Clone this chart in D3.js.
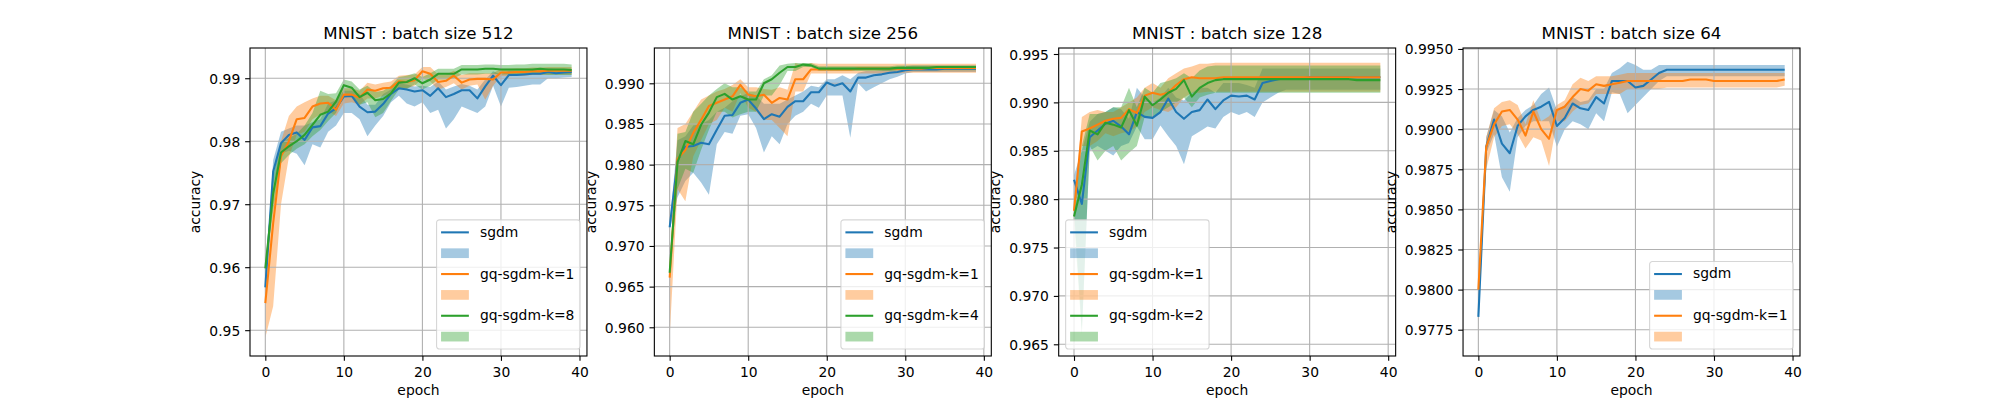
<!DOCTYPE html>
<html>
<head>
  <style>
    body { margin: 0; padding: 0; background: #fff; }
    svg { display: block; font-family: "DejaVu Sans", sans-serif; }
  </style>
</head>
<body>
  <div id="chart"></div>
  <script src="https://cdnjs.cloudflare.com/ajax/libs/d3/7.8.5/d3.min.js"></script>
  <script>
    // ---- data (accuracy per epoch, 40 epochs) ----
    const titles = ['MNIST : batch size 512', 'MNIST : batch size 256', 'MNIST : batch size 128', 'MNIST : batch size 64'];
    const labels512 = ['sgdm', 'gq-sgdm-k=1', 'gq-sgdm-k=8'];
    const labels256 = ['sgdm', 'gq-sgdm-k=1', 'gq-sgdm-k=4'];
    const labels128 = ['sgdm', 'gq-sgdm-k=1', 'gq-sgdm-k=2'];
    const labels64 = ['sgdm', 'gq-sgdm-k=1'];
    const xTicks = [0, 10, 20, 30, 40];
    const yTicks512 = [0.95, 0.96, 0.97, 0.98, 0.99];
    const yTicks256 = [0.960, 0.965, 0.970, 0.975, 0.980, 0.985, 0.990];
    const yTicks128 = [0.965, 0.970, 0.975, 0.980, 0.985, 0.990, 0.995];
    const yTicks64 = [0.9775, 0.9800, 0.9825, 0.9850, 0.9875, 0.9900, 0.9925, 0.9950];
    const yLim512 = [0.9459, 0.9948];
    const yLim256 = [0.95647, 0.99434];
    const yLim128 = [0.96379, 0.99562];
    const yLim64 = [0.97586, 0.99506];

    // batch 512
    const bs512_sgdm = [0.9568,0.9752,0.9797,0.9810,0.9814,0.9802,0.9822,0.9824,0.9844,0.9852,
      0.9871,0.9872,0.9855,0.9846,0.9847,0.9859,0.9875,0.9884,0.9882,0.9879,
      0.9881,0.9872,0.9884,0.9870,0.9875,0.9881,0.9881,0.9868,0.9887,0.9904,
      0.9889,0.9905,0.9905,0.9906,0.9907,0.9907,0.9910,0.9908,0.9909,0.9910];
    const bs512_sgdm_lo = [0.9560,0.9730,0.9780,0.9785,0.9780,0.9762,0.9795,0.9790,0.9815,0.9825,
      0.9845,0.9845,0.9835,0.9808,0.9825,0.9840,0.9862,0.9872,0.9860,0.9855,
      0.9862,0.9845,0.9850,0.9820,0.9835,0.9855,0.9850,0.9845,0.9855,0.9888,
      0.9855,0.9885,0.9886,0.9888,0.9890,0.9890,0.9900,0.9900,0.9901,0.9902];
    const bs512_sgdm_hi = [0.9578,0.9770,0.9815,0.9820,0.9825,0.9825,0.9830,0.9835,0.9860,0.9865,
      0.9880,0.9880,0.9875,0.9858,0.9858,0.9875,0.9882,0.9892,0.9890,0.9887,
      0.9888,0.9886,0.9895,0.9882,0.9887,0.9891,0.9888,0.9882,0.9898,0.9911,
      0.9906,0.9912,0.9912,0.9912,0.9913,0.9913,0.9916,0.9915,0.9915,0.9915];
    const bs512_k1 = [0.9543,0.9670,0.9776,0.9800,0.9835,0.9837,0.9855,0.9860,0.9861,0.9850,
      0.9874,0.9874,0.9869,0.9882,0.9880,0.9884,0.9885,0.9895,0.9894,0.9897,
      0.9911,0.9907,0.9894,0.9896,0.9904,0.9893,0.9898,0.9899,0.9899,0.9898,
      0.9909,0.9909,0.9910,0.9910,0.9911,0.9911,0.9912,0.9912,0.9912,0.9912];
    const bs512_k1_lo = [0.9488,0.9538,0.9700,0.9775,0.9810,0.9815,0.9835,0.9843,0.9848,0.9840,
      0.9860,0.9862,0.9858,0.9868,0.9868,0.9872,0.9876,0.9885,0.9884,0.9888,
      0.9900,0.9895,0.9882,0.9886,0.9892,0.9882,0.9888,0.9890,0.9866,0.9888,
      0.9903,0.9903,0.9904,0.9904,0.9905,0.9905,0.9906,0.9906,0.9906,0.9906];
    const bs512_k1_hi = [0.9595,0.9725,0.9800,0.9840,0.9855,0.9862,0.9868,0.9872,0.9872,0.9865,
      0.9884,0.9884,0.9880,0.9893,0.9890,0.9893,0.9895,0.9904,0.9905,0.9906,
      0.9918,0.9918,0.9906,0.9906,0.9912,0.9905,0.9908,0.9908,0.9908,0.9908,
      0.9915,0.9915,0.9916,0.9916,0.9917,0.9917,0.9918,0.9918,0.9918,0.9918];
    const bs512_k8 = [0.9598,0.9717,0.9782,0.9792,0.9800,0.9810,0.9826,0.9842,0.9847,0.9863,
      0.9889,0.9885,0.9870,0.9877,0.9865,0.9867,0.9876,0.9893,0.9894,0.9900,
      0.9892,0.9898,0.9907,0.9907,0.9907,0.9914,0.9914,0.9914,0.9915,0.9915,
      0.9914,0.9914,0.9914,0.9914,0.9914,0.9915,0.9914,0.9914,0.9914,0.9913];
    const bs512_k8_lo = [0.9592,0.9690,0.9765,0.9778,0.9788,0.9795,0.9808,0.9818,0.9832,0.9845,
      0.9876,0.9872,0.9858,0.9862,0.9838,0.9845,0.9864,0.9882,0.9883,0.9890,
      0.9882,0.9888,0.9898,0.9898,0.9900,0.9906,0.9906,0.9906,0.9907,0.9907,
      0.9906,0.9906,0.9906,0.9906,0.9906,0.9906,0.9905,0.9905,0.9905,0.9905];
    const bs512_k8_hi = [0.9605,0.9745,0.9798,0.9805,0.9812,0.9825,0.9845,0.9880,0.9875,0.9876,
      0.9898,0.9895,0.9882,0.9888,0.9878,0.9880,0.9888,0.9902,0.9904,0.9908,
      0.9902,0.9908,0.9915,0.9915,0.9915,0.9921,0.9921,0.9921,0.9922,0.9922,
      0.9921,0.9921,0.9922,0.9922,0.9923,0.9923,0.9923,0.9923,0.9923,0.9922];

    // batch 256
    const bs256_sgdm = [0.9723,0.9805,0.9822,0.9823,0.9827,0.9825,0.9843,0.9860,0.9861,0.9876,
      0.9880,0.9869,0.9856,0.9862,0.9859,0.9871,0.9878,0.9878,0.9889,0.9889,
      0.9901,0.9897,0.9900,0.9890,0.9907,0.9907,0.9910,0.9911,0.9913,0.9914,
      0.9916,0.9917,0.9917,0.9917,0.9917,0.9918,0.9918,0.9918,0.9918,0.9918];
    const bs256_sgdm_lo = [0.9720,0.9760,0.9780,0.9790,0.9778,0.9763,0.9825,0.9840,0.9838,0.9860,
      0.9862,0.9845,0.9815,0.9835,0.9825,0.9850,0.9860,0.9865,0.9875,0.9870,
      0.9885,0.9885,0.9885,0.9833,0.9900,0.9890,0.9895,0.9900,0.9905,0.9908,
      0.9912,0.9914,0.9914,0.9914,0.9914,0.9914,0.9914,0.9914,0.9914,0.9914];
    const bs256_sgdm_hi = [0.9728,0.9830,0.9835,0.9848,0.9850,0.9855,0.9865,0.9870,0.9878,0.9884,
      0.9888,0.9885,0.9875,0.9875,0.9875,0.9880,0.9885,0.9890,0.9897,0.9895,
      0.9905,0.9905,0.9910,0.9905,0.9913,0.9915,0.9915,0.9916,0.9918,0.9920,
      0.9921,0.9922,0.9922,0.9922,0.9922,0.9922,0.9922,0.9922,0.9922,0.9922];
    const bs256_k1 = [0.9661,0.9807,0.9818,0.9839,0.9855,0.9872,0.9876,0.9880,0.9884,0.9898,
      0.9886,0.9884,0.9886,0.9876,0.9882,0.9880,0.9905,0.9905,0.9917,0.9917,
      0.9917,0.9917,0.9917,0.9917,0.9918,0.9918,0.9918,0.9918,0.9918,0.9918,
      0.9918,0.9918,0.9918,0.9919,0.9919,0.9919,0.9919,0.9919,0.9919,0.9919];
    const bs256_k1_lo = [0.9588,0.9770,0.9755,0.9810,0.9830,0.9850,0.9855,0.9870,0.9865,0.9888,
      0.9870,0.9865,0.9855,0.9855,0.9845,0.9835,0.9890,0.9890,0.9912,0.9912,
      0.9912,0.9912,0.9912,0.9912,0.9912,0.9912,0.9912,0.9912,0.9912,0.9912,
      0.9913,0.9913,0.9913,0.9913,0.9913,0.9913,0.9913,0.9913,0.9913,0.9913];
    const bs256_k1_hi = [0.9675,0.9845,0.9850,0.9865,0.9880,0.9885,0.9890,0.9893,0.9898,0.9905,
      0.9895,0.9895,0.9893,0.9892,0.9895,0.9892,0.9925,0.9922,0.9925,0.9924,
      0.9924,0.9924,0.9924,0.9924,0.9924,0.9924,0.9924,0.9924,0.9924,0.9924,
      0.9924,0.9924,0.9924,0.9924,0.9924,0.9924,0.9924,0.9924,0.9924,0.9924];
    const bs256_k4 = [0.9667,0.9803,0.9829,0.9825,0.9849,0.9864,0.9883,0.9887,0.9880,0.9884,
      0.9880,0.9880,0.9900,0.9905,0.9913,0.9920,0.9920,0.9923,0.9922,0.9918,
      0.9918,0.9918,0.9918,0.9918,0.9918,0.9918,0.9918,0.9918,0.9918,0.9919,
      0.9919,0.9919,0.9919,0.9919,0.9920,0.9920,0.9920,0.9920,0.9920,0.9920];
    const bs256_k4_lo = [0.9663,0.9770,0.9795,0.9790,0.9818,0.9843,0.9865,0.9865,0.9858,0.9862,
      0.9865,0.9865,0.9885,0.9885,0.9898,0.9915,0.9915,0.9920,0.9920,0.9915,
      0.9915,0.9915,0.9915,0.9915,0.9915,0.9915,0.9915,0.9915,0.9915,0.9916,
      0.9916,0.9916,0.9916,0.9916,0.9916,0.9916,0.9916,0.9916,0.9916,0.9916];
    const bs256_k4_hi = [0.9670,0.9838,0.9840,0.9865,0.9875,0.9885,0.9893,0.9900,0.9895,0.9895,
      0.9890,0.9890,0.9905,0.9910,0.9922,0.9924,0.9925,0.9925,0.9925,0.9921,
      0.9921,0.9921,0.9921,0.9921,0.9921,0.9921,0.9921,0.9921,0.9921,0.9922,
      0.9922,0.9922,0.9922,0.9922,0.9922,0.9922,0.9922,0.9922,0.9922,0.9922];

    // batch 128
    const bs128_sgdm = [0.9820,0.9795,0.9864,0.9871,0.9878,0.9881,0.9875,0.9867,0.9890,0.9885,
      0.9884,0.9890,0.9904,0.9890,0.9883,0.9890,0.9892,0.9903,0.9893,0.9902,
      0.9907,0.9906,0.9907,0.9903,0.9920,0.9922,0.9924,0.9925,0.9925,0.9925,
      0.9926,0.9926,0.9926,0.9926,0.9926,0.9926,0.9926,0.9926,0.9926,0.9926];
    const bs128_sgdm_lo = [0.9790,0.9665,0.9850,0.9855,0.9850,0.9845,0.9855,0.9858,0.9875,0.9862,
      0.9862,0.9876,0.9865,0.9855,0.9836,0.9865,0.9870,0.9875,0.9873,0.9885,
      0.9890,0.9887,0.9890,0.9885,0.9900,0.9905,0.9910,0.9913,0.9913,0.9913,
      0.9913,0.9913,0.9913,0.9913,0.9913,0.9913,0.9913,0.9913,0.9913,0.9913];
    const bs128_sgdm_hi = [0.9825,0.9850,0.9880,0.9888,0.9890,0.9895,0.9893,0.9883,0.9915,0.9905,
      0.9900,0.9905,0.9915,0.9905,0.9902,0.9910,0.9915,0.9915,0.9910,0.9920,
      0.9920,0.9920,0.9918,0.9915,0.9935,0.9935,0.9935,0.9935,0.9935,0.9935,
      0.9935,0.9935,0.9935,0.9935,0.9935,0.9935,0.9935,0.9935,0.9935,0.9935];
    const bs128_k1 = [0.9788,0.9870,0.9873,0.9877,0.9881,0.9883,0.9884,0.9893,0.9889,0.9907,
      0.9910,0.9908,0.9910,0.9918,0.9924,0.9926,0.9925,0.9925,0.9925,0.9926,
      0.9926,0.9926,0.9926,0.9926,0.9926,0.9926,0.9926,0.9926,0.9926,0.9926,
      0.9926,0.9926,0.9926,0.9926,0.9926,0.9926,0.9926,0.9926,0.9926,0.9926];
    const bs128_k1_lo = [0.9780,0.9855,0.9855,0.9860,0.9868,0.9865,0.9868,0.9870,0.9875,0.9890,
      0.9895,0.9892,0.9890,0.9895,0.9905,0.9910,0.9910,0.9911,0.9911,0.9911,
      0.9911,0.9911,0.9911,0.9911,0.9911,0.9911,0.9911,0.9911,0.9911,0.9911,
      0.9911,0.9911,0.9911,0.9911,0.9911,0.9911,0.9911,0.9911,0.9911,0.9911];
    const bs128_k1_hi = [0.9792,0.9885,0.9890,0.9892,0.9890,0.9890,0.9895,0.9900,0.9905,0.9915,
      0.9920,0.9915,0.9925,0.9930,0.9935,0.9937,0.9940,0.9940,0.9941,0.9941,
      0.9941,0.9941,0.9941,0.9941,0.9941,0.9941,0.9941,0.9941,0.9941,0.9941,
      0.9941,0.9941,0.9941,0.9941,0.9941,0.9941,0.9941,0.9941,0.9941,0.9941];
    const bs128_k2 = [0.9782,0.9815,0.9871,0.9867,0.9879,0.9877,0.9874,0.9892,0.9876,0.9906,
      0.9897,0.9903,0.9910,0.9914,0.9923,0.9906,0.9915,0.9920,0.9923,0.9924,
      0.9924,0.9924,0.9924,0.9924,0.9924,0.9924,0.9924,0.9924,0.9924,0.9924,
      0.9924,0.9924,0.9924,0.9924,0.9924,0.9924,0.9923,0.9923,0.9923,0.9923];
    const bs128_k2_lo = [0.9778,0.9660,0.9855,0.9840,0.9850,0.9855,0.9840,0.9848,0.9855,0.9885,
      0.9885,0.9890,0.9895,0.9900,0.9905,0.9895,0.9905,0.9908,0.9910,0.9910,
      0.9910,0.9910,0.9910,0.9910,0.9910,0.9910,0.9910,0.9910,0.9910,0.9910,
      0.9910,0.9910,0.9910,0.9910,0.9910,0.9910,0.9910,0.9910,0.9910,0.9910];
    const bs128_k2_hi = [0.9786,0.9855,0.9888,0.9888,0.9890,0.9895,0.9895,0.9915,0.9895,0.9915,
      0.9910,0.9920,0.9922,0.9925,0.9930,0.9925,0.9933,0.9937,0.9938,0.9938,
      0.9938,0.9938,0.9938,0.9938,0.9938,0.9938,0.9938,0.9938,0.9938,0.9938,
      0.9938,0.9938,0.9938,0.9938,0.9938,0.9938,0.9938,0.9938,0.9938,0.9938];

    // batch 64
    const bs64_sgdm = [0.9783,0.9889,0.9906,0.9891,0.9885,0.9902,0.9908,0.9912,0.9914,0.9917,
      0.9902,0.9907,0.9916,0.9913,0.9912,0.9920,0.9916,0.9930,0.9930,0.9930,
      0.9926,0.9927,0.9931,0.9935,0.9937,0.9937,0.9937,0.9937,0.9937,0.9937,
      0.9937,0.9937,0.9937,0.9937,0.9937,0.9937,0.9937,0.9937,0.9937,0.9937];
    const bs64_sgdm_lo = [0.9776,0.9885,0.9897,0.9870,0.9861,0.9895,0.9902,0.9905,0.9905,0.9905,
      0.9889,0.9900,0.9905,0.9903,0.9900,0.9910,0.9905,0.9923,0.9922,0.9910,
      0.9915,0.9920,0.9925,0.9930,0.9933,0.9933,0.9933,0.9933,0.9933,0.9933,
      0.9933,0.9933,0.9933,0.9933,0.9933,0.9933,0.9933,0.9933,0.9933,0.9933];
    const bs64_sgdm_hi = [0.9790,0.9895,0.9912,0.9908,0.9898,0.9907,0.9912,0.9915,0.9922,0.9926,
      0.9912,0.9915,0.9920,0.9917,0.9918,0.9925,0.9925,0.9935,0.9938,0.9942,
      0.9940,0.9937,0.9937,0.9940,0.9940,0.9940,0.9940,0.9940,0.9940,0.9940,
      0.9940,0.9940,0.9940,0.9940,0.9940,0.9940,0.9940,0.9940,0.9940,0.9940];
    const bs64_k1 = [0.9800,0.9889,0.9903,0.9911,0.9912,0.9906,0.9896,0.9911,0.9900,0.9894,
      0.9912,0.9914,0.9920,0.9925,0.9924,0.9928,0.9927,0.9928,0.9929,0.9930,
      0.9930,0.9930,0.9930,0.9930,0.9930,0.9930,0.9930,0.9931,0.9931,0.9931,
      0.9930,0.9930,0.9930,0.9930,0.9930,0.9930,0.9930,0.9930,0.9930,0.9931];
    const bs64_k1_lo = [0.9795,0.9875,0.9895,0.9902,0.9903,0.9897,0.9888,0.9895,0.9893,0.9877,
      0.9905,0.9905,0.9911,0.9915,0.9916,0.9922,0.9922,0.9922,0.9922,0.9925,
      0.9925,0.9925,0.9925,0.9925,0.9926,0.9926,0.9926,0.9926,0.9926,0.9926,
      0.9926,0.9926,0.9926,0.9926,0.9926,0.9926,0.9926,0.9926,0.9926,0.9927];
    const bs64_k1_hi = [0.9805,0.9895,0.9913,0.9917,0.9918,0.9915,0.9903,0.9918,0.9905,0.9908,
      0.9915,0.9918,0.9928,0.9932,0.9930,0.9933,0.9933,0.9933,0.9934,0.9935,
      0.9935,0.9935,0.9935,0.9935,0.9935,0.9935,0.9935,0.9935,0.9935,0.9935,
      0.9935,0.9935,0.9935,0.9935,0.9935,0.9935,0.9935,0.9935,0.9935,0.9935];

    const colors = ['#1f77b4', '#ff7f0e', '#2ca02c'];

    const panels = [
      { title: titles[0], labels: labels512, yTicks: yTicks512, yLim: yLim512, fmt: '.2f', loc: 'lower right',
        series: [[bs512_sgdm, bs512_sgdm_lo, bs512_sgdm_hi], [bs512_k1, bs512_k1_lo, bs512_k1_hi], [bs512_k8, bs512_k8_lo, bs512_k8_hi]] },
      { title: titles[1], labels: labels256, yTicks: yTicks256, yLim: yLim256, fmt: '.3f', loc: 'lower right',
        series: [[bs256_sgdm, bs256_sgdm_lo, bs256_sgdm_hi], [bs256_k1, bs256_k1_lo, bs256_k1_hi], [bs256_k4, bs256_k4_lo, bs256_k4_hi]] },
      { title: titles[2], labels: labels128, yTicks: yTicks128, yLim: yLim128, fmt: '.3f', loc: 'lower left',
        series: [[bs128_sgdm, bs128_sgdm_lo, bs128_sgdm_hi], [bs128_k1, bs128_k1_lo, bs128_k1_hi], [bs128_k2, bs128_k2_lo, bs128_k2_hi]] },
      { title: titles[3], labels: labels64, yTicks: yTicks64, yLim: yLim64, fmt: '.4f', loc: 'lower right',
        series: [[bs64_sgdm, bs64_sgdm_lo, bs64_sgdm_hi], [bs64_k1, bs64_k1_lo, bs64_k1_hi]] }
    ];

    // ---- layout (matplotlib-like 20x4 figure, 1x4 subplots) ----
    const W = 2000, H = 400;
    const figL = 0.125 * W, figR = 0.9 * W, figT = 0.12 * H, figB = 0.89 * H;
    const axW = (figR - figL) / (4 + 3 * 0.2);
    const gap = 0.2 * axW;
    const axH = figB - figT;
    const fs = 13.89;          // 10pt
    const tickLen = 4.86;
    const lw = 2.08;           // 1.5pt line

    const svg = d3.select('#chart').append('svg')
      .attr('width', W).attr('height', H);
    svg.append('rect').attr('width', W).attr('height', H).attr('fill', '#fff');

    panels.forEach((p, pi) => {
      const x0 = figL + pi * (axW + gap);
      const g = svg.append('g').attr('transform', `translate(${x0},${figT})`);

      const x = d3.scaleLinear().domain([-1.95, 40.95]).range([0, axW]);
      const y = d3.scaleLinear().domain(p.yLim).range([axH, 0]);

      const clipId = 'clip' + pi;
      g.append('clipPath').attr('id', clipId)
        .append('rect').attr('width', axW).attr('height', axH);
      const plot = g.append('g').attr('clip-path', `url(#${clipId})`);

      // bands first (below grid)
      p.series.forEach((s, si) => {
        const area = d3.area()
          .x((d, i) => x(i))
          .y0((d, i) => y(s[1][i]))
          .y1((d, i) => y(s[2][i]));
        plot.append('path')
          .attr('d', area(s[0]))
          .attr('fill', colors[si])
          .attr('fill-opacity', 0.4);
      });

      // grid
      plot.selectAll('.gx').data(xTicks).enter().append('line')
        .attr('x1', d => x(d)).attr('x2', d => x(d))
        .attr('y1', 0).attr('y2', axH)
        .attr('stroke', '#b0b0b0').attr('stroke-width', 1.1);
      plot.selectAll('.gy').data(p.yTicks).enter().append('line')
        .attr('x1', 0).attr('x2', axW)
        .attr('y1', d => y(d)).attr('y2', d => y(d))
        .attr('stroke', '#b0b0b0').attr('stroke-width', 1.1);

      // mean lines
      p.series.forEach((s, si) => {
        const line = d3.line().x((d, i) => x(i)).y(d => y(d));
        plot.append('path')
          .attr('d', line(s[0]))
          .attr('fill', 'none')
          .attr('stroke', colors[si])
          .attr('stroke-width', lw)
          .attr('stroke-linejoin', 'round');
      });

      // axes
      const xAxis = g.append('g').attr('transform', `translate(0,${axH})`)
        .call(d3.axisBottom(x).tickValues(xTicks).tickSize(tickLen).tickPadding(5.9).tickFormat(d3.format('d')));
      const yAxis = g.append('g')
        .call(d3.axisLeft(y).tickValues(p.yTicks).tickSize(tickLen).tickPadding(4.9).tickFormat(d3.format(p.fmt)));
      [xAxis, yAxis].forEach(a => {
        a.select('.domain').remove();
        a.selectAll('line').attr('stroke', '#000').attr('stroke-width', 1.1);
        a.selectAll('text').attr('fill', '#000')
          .style('font-family', '"DejaVu Sans", sans-serif').style('font-size', fs + 'px');
      });
      yAxis.selectAll('text').attr('dy', '0.36em');

      // spines
      g.append('rect').attr('width', axW).attr('height', axH)
        .attr('fill', 'none').attr('stroke', '#000').attr('stroke-width', 1.1);

      // title
      g.append('text')
        .attr('x', axW / 2).attr('y', -8.7)
        .attr('text-anchor', 'middle')
        .style('font-size', '16.67px')
        .text(p.title);

      // axis labels
      g.append('text')
        .attr('x', axW / 2).attr('y', axH + 39)
        .attr('text-anchor', 'middle')
        .style('font-size', fs + 'px')
        .text('epoch');

      let maxW = 0;
      yAxis.selectAll('text').each(function () { maxW = Math.max(maxW, this.getComputedTextLength()); });
      const ylx = -tickLen - 4.9 - maxW - 5.56 - 3.3;
      g.append('text')
        .attr('transform', `translate(${ylx},${axH / 2}) rotate(-90)`)
        .attr('text-anchor', 'middle')
        .style('font-size', fs + 'px')
        .text('accuracy');

      // legend: each series has a line entry and an (unlabelled) band entry
      const nRows = p.series.length * 2;
      const pitch = 20.85;
      const boxH = 11.1 + nRows * 13.9 + (nRows - 1) * 6.94;
      const leg = g.append('g');
      const rowsG = leg.append('g');
      let textW = 0;
      p.labels.forEach((lab, si) => {
        const t = rowsG.append('text')
          .attr('x', 43.4).attr('y', 12.5 + (2 * si) * pitch)
          .attr('dy', '0.32em')
          .style('font-size', fs + 'px')
          .text(lab);
        textW = Math.max(textW, t.node().getComputedTextLength());
        rowsG.append('line')
          .attr('x1', 4.5).attr('x2', 32.3)
          .attr('y1', 12.5 + (2 * si) * pitch).attr('y2', 12.5 + (2 * si) * pitch)
          .attr('stroke', colors[si]).attr('stroke-width', lw);
        rowsG.append('rect')
          .attr('x', 4.5).attr('width', 27.8)
          .attr('y', 12.5 + (2 * si + 1) * pitch - 4.85).attr('height', 9.7)
          .attr('fill', colors[si]).attr('fill-opacity', 0.4);
      });
      const boxW = 43.4 + textW + 5.56;
      leg.insert('rect', ':first-child')
        .attr('width', boxW).attr('height', boxH)
        .attr('rx', 2.8).attr('ry', 2.8)
        .attr('fill', '#fff').attr('fill-opacity', 0.8)
        .attr('stroke', '#cccccc').attr('stroke-opacity', 0.8).attr('stroke-width', 1.1);
      const pad = 6.94;
      const lx = p.loc === 'lower left' ? pad : axW - pad - boxW;
      const ly = axH - pad - boxH;
      leg.attr('transform', `translate(${lx},${ly})`);
    });
  </script>
</body>
</html>
